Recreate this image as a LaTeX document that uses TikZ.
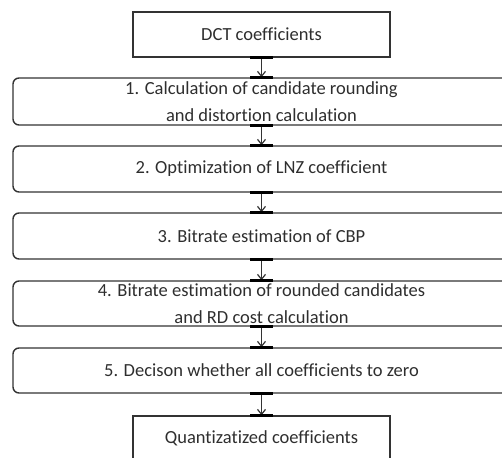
\documentclass[tikz,border=0pt]{standalone}
\usepackage{fontspec}
\setmainfont[Ligatures={NoCommon}]{Carlito}
\usetikzlibrary{arrows.meta}
\definecolor{ink}{HTML}{333333}
\definecolor{txt}{HTML}{2E2E2E}
\tikzset{
  sqbox/.style={draw=ink, line width=1.4pt, minimum width=257pt, minimum height=45pt, inner sep=0pt, text=txt, font=\fontsize{18.5}{27}\selectfont, align=center},
  rbox/.style={draw=ink, line width=1.4pt, rounded corners=6pt, minimum width=497pt, inner sep=0pt, text=txt, font=\fontsize{18.5}{27}\selectfont, align=center},
  flow/.style={draw=ink, line width=1.3pt, -{Straight Barb[length=5pt,width=8pt,line width=1.2pt]}},
  bar/.style={draw=black, line width=3pt}
}
\newcommand{\linkboxes}[2]{%
  \draw[flow] (#1.south) -- (#2.north);
  \draw[bar] ([xshift=-11.5pt]#1.south) -- ([xshift=11.5pt]#1.south);
  \draw[bar] ([xshift=-11.5pt]#2.north) -- ([xshift=11.5pt]#2.north);
}
\begin{document}
\begin{tikzpicture}[x=1pt,y=1pt]
\useasboundingbox (0,0) rectangle (502,-457);
\clip (0,0) rectangle (502,-457);
\node[sqbox] (dct) at (261.5,-34.5) {DCT coefficients};
\node[rbox, minimum height=47pt] (s1) at (261.5,-101.5) {1. Calculation of candidate rounding\\and distortion calculation};
\node[rbox, minimum height=46pt] (s2) at (261.5,-169) {2. Optimization of LNZ coefficient};
\node[rbox, minimum height=46pt] (s3) at (261.5,-236) {3. Bitrate estimation of CBP};
\node[rbox, minimum height=45pt] (s4) at (261.5,-303.5) {4. Bitrate estimation of rounded candidates\\and RD cost calculation};
\node[rbox, minimum height=45pt] (s5) at (261.5,-370.5) {5. Decison whether all coefficients to zero};
\node[sqbox, minimum height=44pt] (q) at (261.5,-438) {Quantizatized coefficients};
\linkboxes{dct}{s1}
\linkboxes{s1}{s2}
\linkboxes{s2}{s3}
\linkboxes{s3}{s4}
\linkboxes{s4}{s5}
\linkboxes{s5}{q}
\end{tikzpicture}
\end{document}
